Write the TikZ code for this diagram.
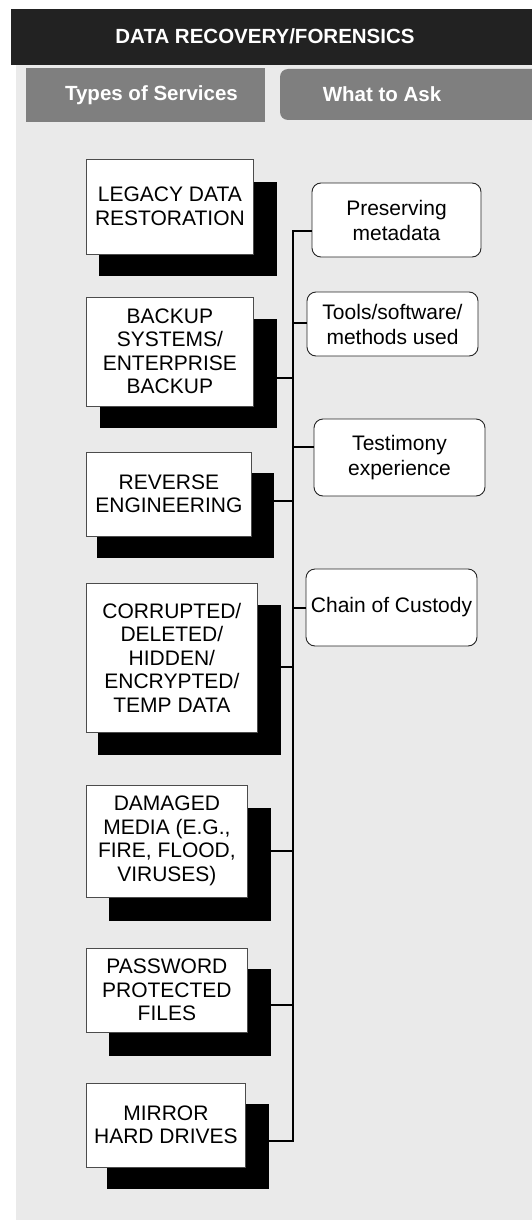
\documentclass[tikz,border=0pt]{standalone}
\usepackage{fontspec}
\setmainfont{Liberation Sans}
\usepackage{tikz}
\definecolor{bandeau}{HTML}{222222}
\definecolor{onglet}{HTML}{7F7F7F}
\definecolor{fondgris}{HTML}{EAEAEA}
\pgfdeclarelayer{arriere}
\pgfdeclarelayer{ombres}
\pgfsetlayers{arriere,ombres,main}

\begin{document}
\begin{tikzpicture}[x=1pt,y=-1pt,
    titre/.style={text=white, font=\fontsize{20.5}{23}\selectfont\bfseries, inner sep=0},
    service/.style={draw=black!70, line width=0.8pt, fill=white, align=center, anchor=west,
      inner sep=2pt, font=\fontsize{21}{23.5}\selectfont},
    question/.style={draw=black!85, line width=0.9pt, fill=white, rounded corners=9pt,
      align=center, inner sep=2pt, font=\fontsize{21}{25}\selectfont},
    lien/.style={line width=1.5pt}]
        \useasboundingbox (0,0) rectangle (532,1220);
        \clip (0,0) rectangle (532,1220);

        % Fond
        \begin{pgfonlayer}{arriere}
        \fill[fondgris] (16,65) rectangle (532,1220);
        \end{pgfonlayer}

        % Bandeau
        \fill[bandeau] (11,9) rectangle (532,65);
        \node[titre] (entete) at (265,36) {DATA RECOVERY/FORENSICS};

        % Onglets
        \fill[onglet] (26,68) rectangle (265,122);
        \fill[onglet, rounded corners=8pt] (280,69) rectangle (560,120);
        \node[titre] (types) at (151.5,95) {Types of Services};
        \node[titre] (ask) at (382,94) {What to Ask};

        % Services
        \node[service, minimum width=167, minimum height=95] (legacy) at (86,206.5) {LEGACY DATA\\RESTORATION};
        \node[service, minimum width=167, minimum height=109] (backup) at (86,351.5) {BACKUP\\SYSTEMS/\\ENTERPRISE\\BACKUP};
        \node[service, minimum width=165, minimum height=84] (reverse) at (86,494) {REVERSE\\ENGINEERING};
        \node[service, minimum width=171, minimum height=149] (corrupt) at (86,657.5) {CORRUPTED/\\DELETED/\\HIDDEN/\\ENCRYPTED/\\TEMP DATA};
        \node[service, minimum width=161, minimum height=112] (damaged) at (86,841) {DAMAGED\\MEDIA (E.G.,\\FIRE, FLOOD,\\VIRUSES)};
        \node[service, minimum width=161, minimum height=84] (password) at (86,990) {PASSWORD\\PROTECTED\\FILES};
        \node[service, minimum width=159, minimum height=84] (mirror) at (86,1125) {MIRROR\\HARD DRIVES};

        % Ombres
        \begin{pgfonlayer}{ombres}
        \fill ([shift={(13,22)}]legacy.south west) rectangle ([shift={(23,23)}]legacy.north east);
        \fill ([shift={(14,22)}]backup.south west) rectangle ([shift={(23,22)}]backup.north east);
        \fill ([shift={(11,22)}]reverse.south west) rectangle ([shift={(22,21)}]reverse.north east);
        \fill ([shift={(12,23)}]corrupt.south west) rectangle ([shift={(23,22)}]corrupt.north east);
        \fill ([shift={(23,24)}]damaged.south west) rectangle ([shift={(23,23)}]damaged.north east);
        \fill ([shift={(23,24)}]password.south west) rectangle ([shift={(23,21)}]password.north east);
        \fill ([shift={(21,22)}]mirror.south west) rectangle ([shift={(23,21)}]mirror.north east);
        \end{pgfonlayer}

        % Questions
        \node[question, minimum width=169, minimum height=74] (preserve) at (396.5,220) {Preserving\\metadata};
        \node[question, minimum width=171, minimum height=64] (tools) at (392.5,324) {Tools/software/\\methods used};
        \node[question, minimum width=171, minimum height=77] (testimony) at (399.5,457.5) {Testimony\\experience};
        \node[question, minimum width=171, minimum height=77] (custody) at (391.5,607.5) {Chain of Custody};

        % Liaisons
        \coordinate (haut) at (293,231);
        \coordinate (bas) at (293,1141);
        \coordinate (jt) at (293,323);
        \coordinate (jx) at (293,447);
        \coordinate (jc) at (293,608);
        \coordinate (jb) at (293,378);
        \coordinate (jr) at (293,501);
        \coordinate (jo) at (293,667);
        \coordinate (jd) at (293,851);
        \coordinate (jp) at (293,1005);
        \draw[lien] (haut -| preserve.west) -- (haut) -- (bas) -- (bas -| mirror.east);
        \draw[lien] (jt) -- (jt -| tools.west);
        \draw[lien] (jx) -- (jx -| testimony.west);
        \draw[lien] (jc) -- (jc -| custody.west);
        \draw[lien] (jb) -- (jb -| backup.east);
        \draw[lien] (jr) -- (jr -| reverse.east);
        \draw[lien] (jo) -- (jo -| corrupt.east);
        \draw[lien] (jd) -- (jd -| damaged.east);
        \draw[lien] (jp) -- (jp -| password.east);

    \end{tikzpicture}
\end{document}
